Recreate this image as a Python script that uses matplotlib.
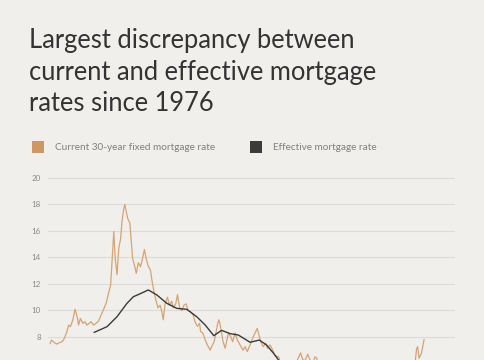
import matplotlib.pyplot as plt
from matplotlib.patches import Rectangle

# 30-year fixed rate (decimal year, percent)
fixed_years = [1971.3, 1971.5, 1971.9, 1972.25, 1972.6, 1973.0, 1973.3, 1973.65, 1973.9,
               1974.15, 1974.5, 1974.8, 1975.1, 1975.3, 1975.55, 1975.9, 1976.2, 1976.45,
               1976.8, 1977.05, 1977.4, 1977.75, 1978.1, 1978.5, 1978.9, 1979.2, 1979.5,
               1979.8, 1980.0, 1980.25, 1980.45, 1980.7, 1980.95, 1981.2, 1981.4, 1981.65,
               1981.8, 1982.0, 1982.2, 1982.5, 1982.7, 1982.9, 1983.2, 1983.4, 1983.7,
               1984.0, 1984.2, 1984.55, 1984.8, 1985.05, 1985.4, 1985.6, 1985.9, 1986.2,
               1986.45, 1986.75, 1987.0, 1987.2, 1987.45, 1987.8, 1988.05, 1988.4, 1988.6,
               1988.95, 1989.2, 1989.5, 1989.8, 1990.1, 1990.4, 1990.7, 1991.05, 1991.4,
               1991.65, 1992.0, 1992.3, 1992.45, 1992.75, 1993.1, 1993.4, 1993.8, 1994.0,
               1994.35, 1994.6, 1994.8, 1995.0, 1995.15, 1995.4, 1995.6, 1995.9, 1996.1,
               1996.35, 1996.7, 1996.95, 1997.3, 1997.6, 1998.0, 1998.4, 1998.7, 1999.0,
               1999.4, 1999.75, 2000.1, 2000.4, 2000.65, 2000.9, 2001.25, 2001.6, 2001.85,
               2002.2, 2002.6, 2002.9, 2003.4, 2003.8, 2004.2, 2004.5, 2004.9, 2005.5,
               2006.0, 2006.5, 2006.8, 2007.1, 2007.5, 2007.8, 2008.2, 2008.5, 2008.8,
               2009.0, 2009.5, 2010.5, 2011.2, 2012.5, 2013.5, 2014.5, 2015.5, 2016.5,
               2017.0, 2018.8, 2019.7, 2020.9, 2021.5, 2022.0, 2022.3, 2022.5, 2022.8,
               2022.95, 2023.15, 2023.5, 2023.85]
fixed_rate = [7.5, 7.77, 7.57, 7.47, 7.57, 7.65, 7.9, 8.4, 8.9,
              8.78, 9.3, 10.1, 9.53, 8.9, 9.4, 9.03, 9.15, 8.9,
              9.03, 9.15, 8.9, 9.03, 9.2, 9.7, 10.2, 10.6, 11.3,
              11.9, 13.7, 15.95, 13.9, 12.7, 14.7, 15.4, 16.7, 17.7,
              18.0, 17.45, 16.95, 16.6, 15.2, 13.9, 13.3, 12.8, 13.6,
              13.3, 13.7, 14.6, 13.9, 13.4, 13.05, 12.3, 11.4, 10.7,
              10.2, 10.4, 9.9, 9.3, 10.5, 11.0, 10.4, 10.7, 10.2,
              10.5, 11.2, 10.2, 10.0, 10.4, 10.5, 10.0, 9.9, 9.66,
              9.15, 8.8, 9.03, 8.4, 8.3, 7.77, 7.4, 7.0, 7.27,
              7.65, 8.3, 8.9, 9.3, 9.03, 8.3, 7.65, 7.15, 7.65,
              8.3, 8.0, 7.65, 8.3, 7.77, 7.4, 7.0, 7.27, 6.9,
              7.4, 7.9, 8.3, 8.65, 8.15, 7.65, 7.27, 7.53, 7.15,
              7.4, 7.0, 6.6, 6.5, 5.9, 5.6, 6.2, 5.7, 5.7,
              6.2, 6.8, 6.3, 6.2, 6.7, 6.3, 5.9, 6.5, 6.4,
              5.1, 5.2, 4.6, 4.9, 3.6, 4.4, 4.2, 4.0, 3.5,
              4.2, 4.9, 3.6, 2.7, 3.0, 3.4, 5.0, 5.6, 7.1,
              7.27, 6.4, 6.8, 7.8]

# effective mortgage rate (average on outstanding loans)
eff_years = [1977.5, 1979.3, 1980.7, 1982.1, 1983.0, 1983.9, 1985.1, 1986.3, 1987.7,
             1989.1, 1990.5, 1991.9, 1993.1, 1994.3, 1995.4, 1996.6, 1997.75, 1999.4,
             2000.7, 2001.7, 2002.7, 2003.4, 2004.5, 2006.0, 2008.0, 2010.0, 2012.0,
             2014.0, 2016.0, 2018.0, 2020.0, 2021.5, 2023.5]
eff_rate = [8.35, 8.78, 9.53, 10.54, 11.04, 11.25, 11.55, 11.17, 10.54,
            10.16, 10.09, 9.53, 8.9, 8.1, 8.5, 8.25, 8.15, 7.6,
            7.77, 7.4, 6.77, 6.26, 5.9, 6.0, 5.9, 5.2, 4.5,
            4.1, 3.9, 4.0, 3.6, 3.1, 3.7]

y_ticks = [6, 8, 10, 12, 14, 16, 18, 20]

title = "Largest discrepancy between\ncurrent and effective mortgage\nrates since 1976"
label_fixed = "Current 30-year fixed mortgage rate"
label_eff = "Effective mortgage rate"

bg = "#f0efeb"
orange = "#d5a474"
dark = "#3a3a3a"

plt.rcParams['font.family'] = ['Lato', 'DejaVu Sans']

fig = plt.figure(figsize=(4.85, 3.6), dpi=100, facecolor=bg)
ax = fig.add_axes([48 / 485, -30 / 360, 407 / 485, 220 / 360])
ax.set_facecolor(bg)

ax.plot(fixed_years, fixed_rate, color=orange, lw=0.9, zorder=3)
ax.plot(eff_years, eff_rate, color=dark, lw=1.0, zorder=4)

ax.set_xlim(1971.0, 2028.2)
ax.set_ylim(4, 20.6)
ax.set_yticks(y_ticks)
ax.set_yticklabels([str(t) for t in y_ticks])
ax.set_xticks([])
ax.tick_params(axis='y', length=0, pad=5, labelsize=5.8, labelcolor="#8a8a8a")
ax.grid(axis='y', color="#dcdcd6", lw=0.8)
ax.set_axisbelow(True)
for s in ax.spines.values():
    s.set_visible(False)

fig.text(29 / 485, 1 - 28 / 360, title, fontsize=18.4, color="#333333",
         va='top', ha='left', linespacing=1.33)

# legend
fig.add_artist(Rectangle((32 / 485, 1 - 153 / 360), 12 / 485, 12 / 360,
                         transform=fig.transFigure, color="#cf9862", lw=0))
fig.text(55 / 485, 1 - 147 / 360, label_fixed, fontsize=7.2, color="#808080", va='center')
fig.add_artist(Rectangle((250 / 485, 1 - 153 / 360), 12 / 485, 12 / 360,
                         transform=fig.transFigure, color="#3c3c3c", lw=0))
fig.text(273 / 485, 1 - 147 / 360, label_eff, fontsize=7.2, color="#808080", va='center')

fig.savefig("out.png", dpi=100, facecolor=bg)
